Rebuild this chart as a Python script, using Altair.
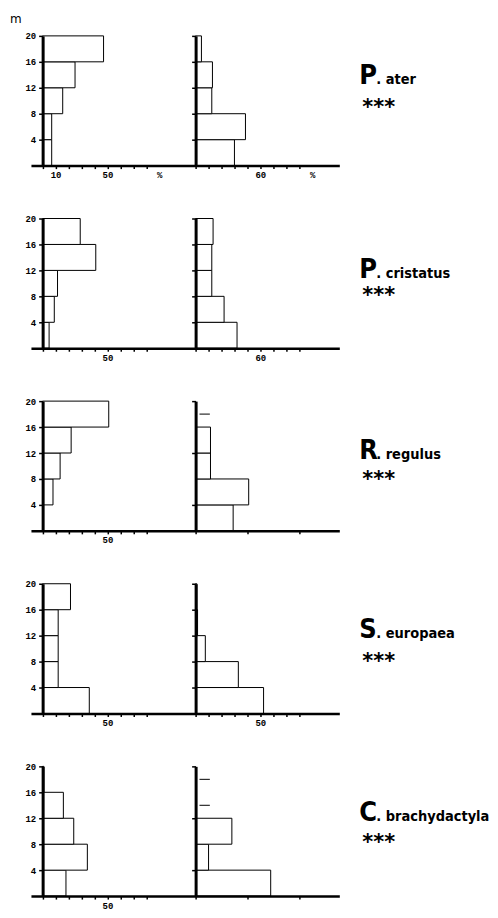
import altair as alt
import pandas as pd

# ---------------- data ----------------
initials = ["P", "P", "R", "S", "C"]
epithets = [". ater", ". cristatus", ". regulus", ". europaea", ". brachydactyla"]
significance = ["***", "***", "***", "***", "***"]
depth_unit = "m"

bin_lo = [0, 4, 8, 12, 16]
bin_hi = [4, 8, 12, 16, 20]

# % of observations per height class (left and right histogram of each species)
left_pct = [
    [7, 7, 15.5, 25, 47],
    [5, 9, 11.5, 41, 29],
    [0, 8, 13.5, 22, 51],
    [36, 12, 12, 12, 21.5],
    [18, 34.5, 24, 16, 1],
]
right_pct = [
    [30, 38.5, 12.5, 13, 4.5],
    [32, 22, 12.5, 12.5, 13.5],
    [29, 41, 11.5, 11.5, 0],
    [52.5, 33, 7.5, 1.5, 1],
    [58, 10, 28, 0, 0],
]
# short dashes (trace occurrences) in the right histograms
trace_row = [2, 4, 4]
trace_depth = [18, 18, 14]
trace_from = [3, 3, 3]
trace_to = [11, 11, 11]

left_tick_text = [
    {10: "10", 50: "50", 90: "%"},
    {50: "50"}, {50: "50"}, {50: "50"}, {50: "50"},
]
right_tick_text = [
    {50: "60", 90: "%"},
    {50: "60"}, {50: "50"}, {50: "50"}, {50: "50"},
]
tick_values = [0, 10, 20, 30, 40, 50, 60, 70, 80, 90]
y_values = [4, 8, 12, 16, 20]

# ---------------- style ----------------
PX = 1.3            # pixels per % unit
LEFT_MIN, LEFT_MAX = -9, 118
RIGHT_MAX = 111
H = 130
TICK_FONT = "Liberation Mono"
LABEL_FONT = "Liberation Sans Narrow, DejaVu Sans Condensed, sans-serif"
NAME_BASELINE = [48, 60, 58, 54, 55]   # per-row label placement (px from panel top)
STAR_BASELINE = [78, 84, 85, 84, 83]


def label_expr(mapping):
    parts = " : ".join(f"datum.value == {k} ? '{v}'" for k, v in mapping.items())
    return parts + " : ''"


def x_axis(mapping):
    return alt.Axis(
        values=tick_values,
        labelExpr=label_expr(mapping),
        title=None,
        grid=False,
        domainColor="black",
        domainWidth=2.5,
        tickColor="black",
        tickWidth=1.5,
        tickSize=3,
        tickOpacity={"condition": {"test": "datum.value > 85", "value": 0}, "value": 1},
        labelFont=TICK_FONT,
        labelFontWeight="bold",
        labelFontSize=9,
        labelColor="black",
        labelPadding=2,
        labelFlush=False,
        labelOverlap=False,
        zindex=1,
    )


def y_axis(show_labels, offset):
    return alt.Axis(
        values=y_values,
        title=None,
        grid=False,
        domainColor="black",
        domainWidth=3,
        tickColor="black",
        tickWidth=1.5,
        tickSize=4,
        labels=show_labels,
        labelFont=TICK_FONT,
        labelFontWeight="bold",
        labelFontSize=9,
        labelColor="black",
        labelPadding=3,
        offset=offset,
        zindex=1,
    )


def panel(vals, row, side):
    df = pd.DataFrame({"lo": bin_lo, "hi": bin_hi, "pct": vals, "zero": [0] * 5})
    if side == "left":
        domain = [LEFT_MIN, LEFT_MAX]
        width = round((LEFT_MAX - LEFT_MIN) * PX)
        xa = x_axis(left_tick_text[row])
        ya = y_axis(True, -round(-LEFT_MIN * PX, 1))
    else:
        domain = [0, RIGHT_MAX]
        width = round(RIGHT_MAX * PX)
        xa = x_axis(right_tick_text[row])
        ya = y_axis(False, 0)
    xs = alt.Scale(domain=domain, nice=False, zero=False)
    ys = alt.Scale(domain=[0, 20], nice=False)
    bars = alt.Chart(df).transform_filter("datum.pct > 0").mark_rect(
        fill="white", stroke="black", strokeWidth=1
    ).encode(
        x=alt.X("zero:Q", scale=xs, axis=xa),
        x2="pct:Q",
        y=alt.Y("lo:Q", scale=ys, axis=ya),
        y2="hi:Q",
    )
    layers = [bars]
    if side == "right":
        tr = pd.DataFrame({"row": trace_row, "depth": trace_depth,
                           "x0": trace_from, "x1": trace_to})
        tr = tr[tr["row"] == row]
        if len(tr):
            layers.append(
                alt.Chart(tr).mark_rule(color="black", strokeWidth=1).encode(
                    x=alt.X("x0:Q", scale=xs), x2="x1:Q",
                    y=alt.Y("depth:Q", scale=ys),
                )
            )
    if side == "left" and row == 0:
        layers.append(
            alt.Chart(pd.DataFrame({"u": [depth_unit]})).mark_text(
                align="left", baseline="alphabetic", font="DejaVu Sans",
                fontSize=12, color="black"
            ).encode(text="u:N", x=alt.value(-21), y=alt.value(-13))
        )
    return alt.layer(*layers).properties(width=width, height=H)


def label_view(row):
    df = pd.DataFrame({"ini": [initials[row]], "rest": [epithets[row]],
                       "sig": [significance[row]]})
    base = alt.Chart(df)
    big = base.mark_text(align="left", baseline="alphabetic", font=LABEL_FONT,
                         fontWeight="bold", fontSize=27, color="black").encode(
        text="ini:N", x=alt.value(20), y=alt.value(NAME_BASELINE[row]))
    small = base.mark_text(align="left", baseline="alphabetic", font=LABEL_FONT,
                           fontWeight="bold", fontSize=14.5, color="black").encode(
        text="rest:N", x=alt.value(37), y=alt.value(NAME_BASELINE[row]))
    stars = base.mark_text(align="left", baseline="alphabetic", font="DejaVu Sans",
                           fontWeight="bold", fontSize=21, color="black").encode(
        text="sig:N", x=alt.value(23), y=alt.value(STAR_BASELINE[row]))
    return alt.layer(big, small, stars).properties(width=135, height=H)


cells = []
for r in range(5):
    cells += [panel(left_pct[r], r, "left"),
              panel(right_pct[r], r, "right"),
              label_view(r)]

chart = alt.concat(*cells, columns=3, spacing={"row": 53, "column": 0},
                   bounds="flush").properties(
    padding={"left": 2, "top": 4, "right": 0, "bottom": 0},
    background="white",
).configure_view(stroke=None)

chart.save("out.html", embed_options={"renderer": "svg", "actions": False})
